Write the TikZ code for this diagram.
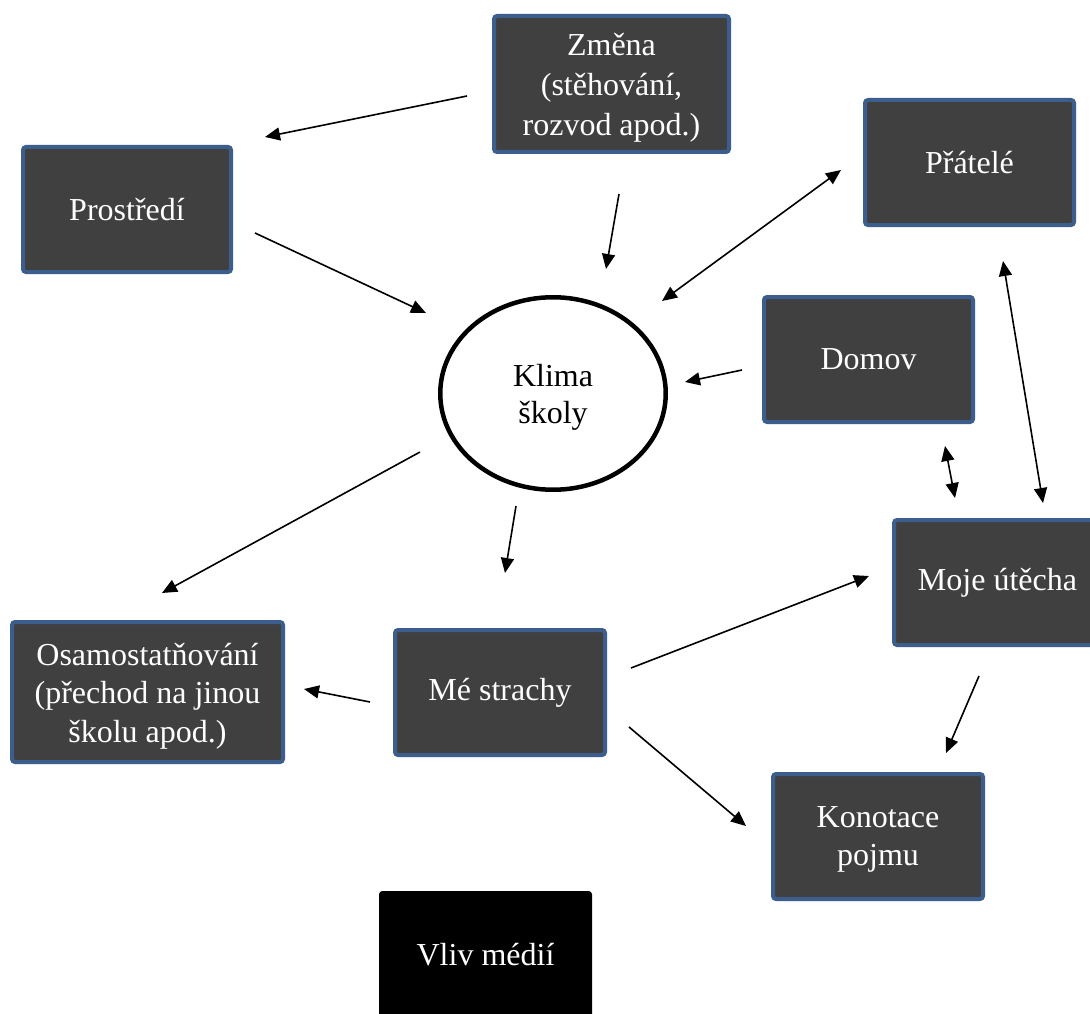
\documentclass[tikz,border=0pt]{standalone}
\usepackage{fontspec}
\setmainfont{Liberation Serif}
\usetikzlibrary{arrows.meta,shapes.geometric}
\definecolor{boxfill}{HTML}{404040}
\definecolor{boxborder}{HTML}{3B5E8C}
\tikzset{
  box/.style={draw=boxborder, fill=boxfill, line width=4pt, rounded corners=3pt,
    text=white, align=center, inner sep=0pt,
    font=\fontsize{32}{38.5}\selectfont},
  darkbox/.style={draw=black, fill=black, line width=1pt, rounded corners=3pt,
    text=white, align=center, inner sep=0pt,
    font=\fontsize{32}{38.5}\selectfont},
  conn/.style={line width=1.6pt, -{Triangle[length=15pt,width=13pt]}},
  dconn/.style={line width=1.6pt, {Triangle[length=15pt,width=13pt]}-{Triangle[length=15pt,width=13pt]}}
}
\begin{document}
\begin{tikzpicture}[x=1pt,y=-1pt]
\path[use as bounding box, fill=white] (0,0) rectangle (1090,1014);

\node[box, minimum width=235pt, minimum height=136pt] (zmena) at (611.5,84) {};
\node[align=center, text=white, inner sep=0pt, font=\fontsize{32}{40}\selectfont] (zmenaT) at (611.5,88) {Změna\\(stěhování,\\rozvod apod.)};
\node[box, minimum width=208pt, minimum height=125pt] (prostredi) at (127,209.5) {Prostředí};
\node[box, minimum width=209pt, minimum height=125pt] (pratele) at (969.5,162.5) {Přátelé};
\node[box, minimum width=209pt, minimum height=125pt] (domov) at (868.5,359.5) {Domov};
\node[box, minimum width=207pt, minimum height=125pt] (uteCha) at (997.5,582.5) {Moje útěcha};
\node[box, minimum width=271pt, minimum height=140pt] (osam) at (147.5,692) {};
\node[align=center, text=white, inner sep=0pt, font=\fontsize{32}{38.5}\selectfont] (osamT) at (147.5,696) {Osamostatňování\\(přechod na jinou\\školu apod.)};
\node[box, minimum width=210pt, minimum height=125pt] (strachy) at (500,692.5) {Mé strachy};
\node[box, minimum width=210pt, minimum height=125pt] (konotace) at (878,836.5) {};
\node[align=center, text=white, inner sep=0pt, font=\fontsize{32}{38}\selectfont] (konotaceT) at (878,839) {Konotace\\pojmu};
\node[darkbox, minimum width=212pt, minimum height=126pt] (media) at (485.5,954.5) {Vliv médií};
\node[ellipse, draw=black, line width=4.5pt, minimum width=225.5pt, minimum height=192.5pt] (klima) at (553,393.5) {};
\node[align=center, inner sep=0pt, font=\fontsize{32}{37}\selectfont] (klimaT) at (553,397) {Klima\\školy};

% free connector ends
\coordinate (a1s) at (467,96);   \coordinate (a1e) at (265,137);
\coordinate (a2s) at (255,233);  \coordinate (a2e) at (426,313);
\coordinate (a3s) at (619,194);  \coordinate (a3e) at (606,269);
\coordinate (a4s) at (841,170);  \coordinate (a4e) at (662,301);
\coordinate (a5s) at (742,370);  \coordinate (a5e) at (685,382);
\coordinate (a6s) at (945,446);  \coordinate (a6e) at (955,498);
\coordinate (a7s) at (1003,261); \coordinate (a7e) at (1043,503);
\coordinate (a8s) at (420,452);  \coordinate (a8e) at (162,593);
\coordinate (a9s) at (516,506);  \coordinate (a9e) at (505,573);
\coordinate (a10s) at (631,668); \coordinate (a10e) at (869,576);
\coordinate (a11s) at (370,702); \coordinate (a11e) at (304,689);
\coordinate (a12s) at (629,727); \coordinate (a12e) at (746,826);
\coordinate (a13s) at (979,676); \coordinate (a13e) at (946,753);

\draw[conn] (a1s) -- (a1e);
\draw[conn] (a2s) -- (a2e);
\draw[conn] (a3s) -- (a3e);
\draw[dconn] (a4s) -- (a4e);
\draw[conn] (a5s) -- (a5e);
\draw[dconn] (a6s) -- (a6e);
\draw[dconn] (a7s) -- (a7e);
\draw[conn] (a8s) -- (a8e);
\draw[conn] (a9s) -- (a9e);
\draw[conn] (a10s) -- (a10e);
\draw[conn] (a11s) -- (a11e);
\draw[conn] (a12s) -- (a12e);
\draw[conn] (a13s) -- (a13e);
\end{tikzpicture}
\end{document}
